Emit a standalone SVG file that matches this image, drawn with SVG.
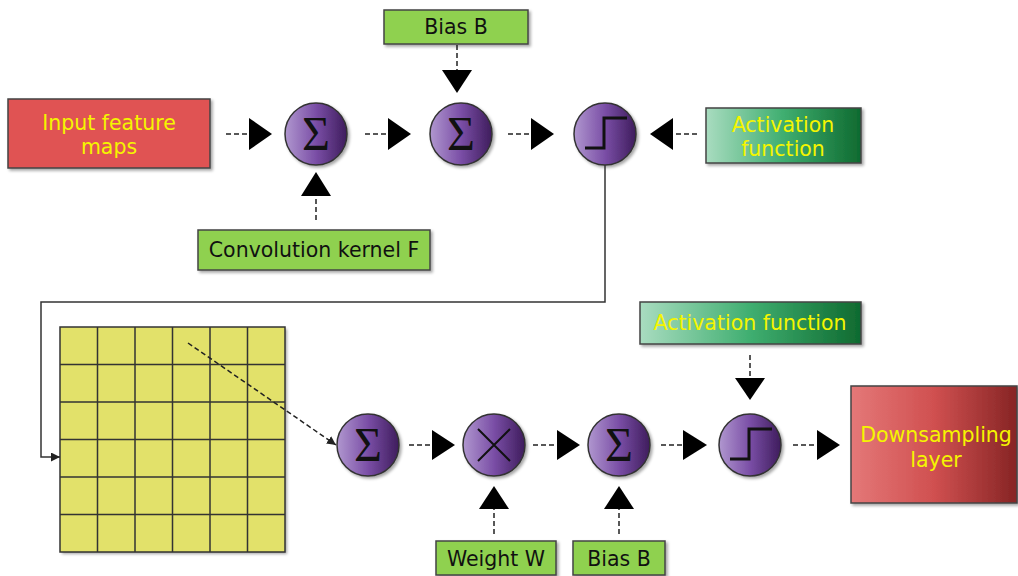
<svg xmlns="http://www.w3.org/2000/svg" width="1018" height="576" viewBox="0 0 1018 576">
<defs>
<linearGradient id="gPurple" x1="0" y1="0" x2="1" y2="0">
<stop offset="0" stop-color="#b097cf"/><stop offset="0.5" stop-color="#7a4ea6"/><stop offset="1" stop-color="#3e1c5c"/>
</linearGradient>
<linearGradient id="gGreen" x1="0" y1="0" x2="1" y2="0">
<stop offset="0" stop-color="#a9dcc0"/><stop offset="0.5" stop-color="#3fae70"/><stop offset="1" stop-color="#0f6a30"/>
</linearGradient>
<linearGradient id="gRed" x1="0" y1="0" x2="1" y2="0">
<stop offset="0" stop-color="#e47878"/><stop offset="0.5" stop-color="#d05050"/><stop offset="1" stop-color="#862424"/>
</linearGradient>
<filter id="sh" x="-10%" y="-10%" width="130%" height="140%">
<feDropShadow dx="2" dy="2" stdDeviation="1.5" flood-color="#000" flood-opacity="0.35"/>
</filter>
<marker id="sm" viewBox="0 0 10 10" refX="10" refY="5" markerWidth="9" markerHeight="9" markerUnits="userSpaceOnUse" orient="auto">
<path d="M0,0 L10,5 L0,10 z" fill="#222"/>
</marker>
<style>
.box{stroke:#444;stroke-width:1.5;filter:url(#sh)}
.lg{fill:#8fd14f}
.t{font-family:"DejaVu Sans",Verdana,sans-serif;font-size:20.5px;text-anchor:middle}
.tb{fill:#111}
.ty{fill:#f5f500}
.c{fill:url(#gPurple);stroke:#333;stroke-width:1.5;filter:url(#sh)}
.sig{font-family:"Liberation Serif","Times New Roman",serif;font-size:48px;text-anchor:middle;fill:#111}
.step{fill:none;stroke:#111;stroke-width:3}
.dash{stroke:#222;stroke-width:1.5;stroke-dasharray:5,3;fill:none}
.tri{fill:#000}
.cell{fill:none;stroke:#333;stroke-width:1.5}
</style>
</defs>
<rect width="1018" height="576" fill="#fff"/>

<g id="input-feature-maps">
<rect class="box" x="8" y="99" width="202" height="69" fill="#e05252"/>
<text class="t ty" x="109" y="130">Input feature</text>
<text class="t ty" x="109" y="154">maps</text>
</g>
<g id="bias-b-top">
<rect class="box lg" x="384" y="10" width="144" height="34"/>
<text class="t tb" x="456" y="34">Bias B</text>
</g>
<g id="conv-kernel">
<rect class="box lg" x="198" y="230" width="232" height="40"/>
<text class="t tb" x="314" y="257">Convolution kernel F</text>
</g>
<g id="activation-top">
<rect class="box" x="706" y="108" width="155" height="55" fill="url(#gGreen)"/>
<text class="t ty" x="783" y="132">Activation</text>
<text class="t ty" x="783" y="156">function</text>
</g>
<g id="sum1">
<circle class="c" cx="316" cy="134" r="31"/>
<text class="sig" x="316" y="150">Σ</text>
</g>
<g id="sum2">
<circle class="c" cx="461" cy="134" r="31"/>
<text class="sig" x="461" y="150">Σ</text>
</g>
<g id="step1">
<circle class="c" cx="605" cy="134" r="31"/>
<path class="step" d="M585,148 H604 V118 H627"/>
</g>

<g id="feature-grid">
<rect x="60" y="327" width="225" height="225" fill="#e2e16a" filter="url(#sh)"/>
<path class="cell" d="M60,327 H285 V552 H60 Z M97.5,327 V552 M135,327 V552 M172.5,327 V552 M210,327 V552 M247.5,327 V552 M60,364.5 H285 M60,402 H285 M60,439.5 H285 M60,477 H285 M60,514.5 H285"/>
</g>
<g id="sum3">
<circle class="c" cx="368" cy="445" r="31"/>
<text class="sig" x="368" y="461">Σ</text>
</g>
<g id="mult">
<circle class="c" cx="494" cy="445" r="31"/>
<path d="M478,429 L510,461 M510,429 L478,461" stroke="#111" stroke-width="2" fill="none"/>
</g>
<g id="sum4">
<circle class="c" cx="619" cy="445" r="31"/>
<text class="sig" x="619" y="461">Σ</text>
</g>
<g id="step2">
<circle class="c" cx="750" cy="445" r="31"/>
<path class="step" d="M730,459 H749 V429 H772"/>
</g>
<g id="activation-bottom">
<rect class="box" x="640" y="302" width="221" height="42" fill="url(#gGreen)"/>
<text class="t ty" x="750" y="330">Activation function</text>
</g>
<g id="downsampling">
<rect class="box" x="851" y="386" width="166" height="117" fill="url(#gRed)"/>
<text class="t ty" x="936" y="442">Downsampling</text>
<text class="t ty" x="936" y="467">layer</text>
</g>
<g id="weight-w">
<rect class="box lg" x="436" y="541" width="120" height="34"/>
<text class="t tb" x="496" y="566">Weight W</text>
</g>
<g id="bias-b-bottom">
<rect class="box lg" x="573" y="541" width="92" height="34"/>
<text class="t tb" x="619" y="566">Bias B</text>
</g>

<g id="connectors">
<path class="dash" d="M226,134 H250"/><path class="tri" d="M249,118 L272,134 L249,150 z"/>
<path class="dash" d="M365,134 H389"/><path class="tri" d="M388,118 L411,134 L388,150 z"/>
<path class="dash" d="M508,134 H532"/><path class="tri" d="M531,118 L554,134 L531,150 z"/>
<path class="dash" d="M697,134 H672"/><path class="tri" d="M673,118 L650,134 L673,150 z"/>
<path class="dash" d="M457,45 V71"/><path class="tri" d="M442,70 L472,70 L457,93 z"/>
<path class="dash" d="M316,220 V195"/><path class="tri" d="M301,196 L331,196 L316,172 z"/>
<path d="M605,165 V302 H41 V457 H60" fill="none" stroke="#333" stroke-width="1.5" marker-end="url(#sm)"/>
<path class="dash" d="M188,343 L336,445" stroke-dasharray="4,3" marker-end="url(#sm)"/>
<path class="dash" d="M409,445 H433"/><path class="tri" d="M432,430 L455,445 L432,460 z"/>
<path class="dash" d="M533,445 H558"/><path class="tri" d="M557,430 L580,445 L557,460 z"/>
<path class="dash" d="M661,445 H684"/><path class="tri" d="M683,430 L707,445 L683,460 z"/>
<path class="dash" d="M793,445 H818"/><path class="tri" d="M817,430 L840,445 L817,460 z"/>
<path class="dash" d="M750,355 V379"/><path class="tri" d="M735,378 L765,378 L750,400 z"/>
<path class="dash" d="M494,534 V509"/><path class="tri" d="M479,509 L509,509 L494,486 z"/>
<path class="dash" d="M619,534 V509"/><path class="tri" d="M604,509 L634,509 L619,486 z"/>
</g>
</svg>
